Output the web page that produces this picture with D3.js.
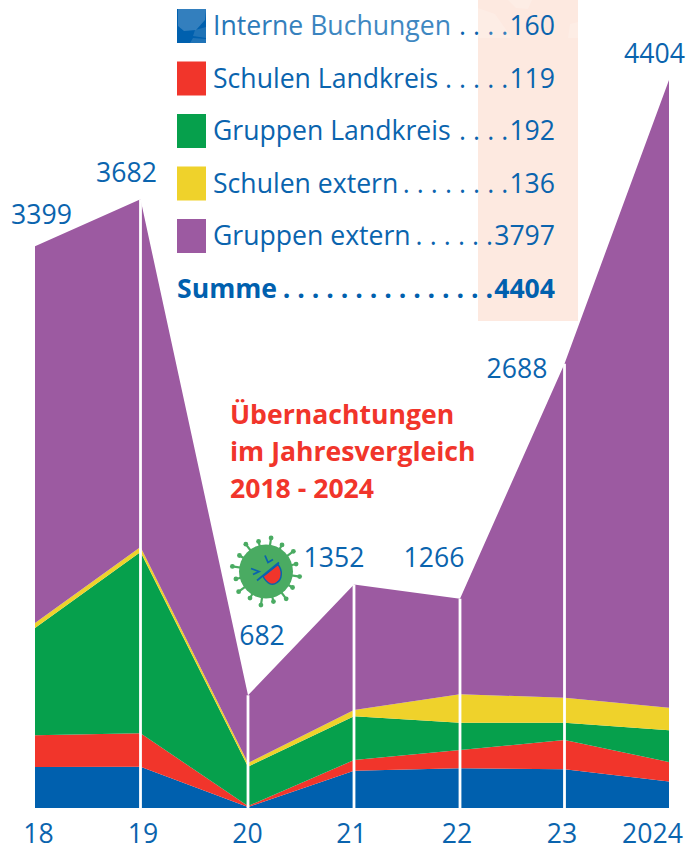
<!DOCTYPE html>
<html>
<head>
<meta charset="utf-8">
<script src="https://cdn.jsdelivr.net/npm/d3@7"></script>
<style>
  html, body { margin: 0; padding: 0; background: #fff; }
  svg { display: block; }
  text { font-family: "Open Sans", sans-serif; }
</style>
</head>
<body>
<div id="chart"></div>
<script>
// Übernachtungen je Jahr, von unten nach oben gestapelt
const years = ["18", "19", "20", "21", "22", "23", "2024"];
const interneBuchungen = [248, 250, 6, 226, 240, 234, 160];
const schulenLandkreis = [192, 202, 6, 64, 111, 177, 119];
const gruppenLandkreis = [649, 1097, 238, 265, 165, 105, 192];
const schulenExtern = [30, 30, 22, 38, 172, 151, 136];
const gruppenExtern = [2280, 2103, 410, 759, 578, 2021, 3797];
const totals = [3399, 3682, 682, 1352, 1266, 2688, 4404];

const seriesNames = ["Interne Buchungen", "Schulen Landkreis", "Gruppen Landkreis", "Schulen extern", "Gruppen extern"];
const seriesValues = [interneBuchungen, schulenLandkreis, gruppenLandkreis, schulenExtern, gruppenExtern];
const seriesColors = ["#0060ae", "#f1352b", "#06a04c", "#efd22b", "#9c5aa1"];
const legendLeaders = [". . . .", ". . . . .", ". . . .", ". . . . . . . .", ". . . . . ."];
const sumLeader = 15;
const titleLines = ["Übernachtungen", "im Jahresvergleich", "2018 - 2024"];

const width = 688, height = 849;
const baseline = 808;
const fontSize = 26.6;
const textBlue = "#0a64ae";

const svg = d3.select("#chart").append("svg")
    .attr("width", width)
    .attr("height", height);

let defs = svg.append("defs");
let fade = defs.append("linearGradient")
    .attr("id", "fadeText")
    .attr("gradientUnits", "userSpaceOnUse")
    .attr("x1", 213).attr("x2", 340).attr("y1", 0).attr("y2", 0);
fade.append("stop").attr("offset", 0).attr("stop-color", "#2474b6");
fade.append("stop").attr("offset", 1).attr("stop-color", "#3f87c1");

let xScale = d3.scaleLinear()
    .domain(d3.range(years.length))
    .range([35, 140.5, 248, 354, 460, 564.5, 669]);

let yScale = d3.scaleLinear()
    .domain([0, 4404])
    .range([baseline, 80]);

// peach column behind the legend numbers
svg.append("rect")
    .attr("x", 478).attr("y", 0)
    .attr("width", 100).attr("height", 321)
    .attr("fill", "#fde9e0");

// stacked areas
let rows = years.map(function (d, i) {
    let row = { index: i };
    seriesNames.forEach(function (name, s) { row[name] = seriesValues[s][i]; });
    return row;
});

let stacked = d3.stack().keys(seriesNames)(rows);

let area = d3.area()
    .x(function (d) { return xScale(d.data.index); })
    .y0(function (d) { return yScale(d[0]); })
    .y1(function (d) { return yScale(d[1]); });

svg.append("g").selectAll("path")
    .data(stacked)
    .enter().append("path")
    .attr("d", area)
    .attr("fill", function (d, i) { return seriesColors[i]; });

// white separators at the inner years
svg.append("g").selectAll("line")
    .data(totals.slice(1, -1))
    .enter().append("line")
    .attr("x1", function (d, i) { return xScale(i + 1); })
    .attr("x2", function (d, i) { return xScale(i + 1); })
    .attr("y1", function (d) { return yScale(d); })
    .attr("y2", baseline)
    .attr("stroke", "#fff")
    .attr("stroke-width", 2.8);

// x axis labels
let xAxis = d3.axisBottom(xScale)
    .tickValues(d3.range(years.length))
    .tickFormat(function (i) { return years[i]; })
    .tickSize(0);

let axisGroup = svg.append("g")
    .attr("transform", "translate(0," + baseline + ")")
    .call(xAxis);
axisGroup.select(".domain").remove();
axisGroup.selectAll("text")
    .attr("y", 0)
    .attr("dy", 0)
    .attr("transform", function (i) { return "translate(" + [3, 2, -1, -3, -3.5, -3, -17][i] + ",35)"; })
    .attr("font-size", fontSize)
    .attr("font-family", '"Open Sans", sans-serif')
    .attr("fill", textBlue);

// totals above the peaks
const totalLabelX = [41.5, 126.5, 262, 334, 434, 517, 654.5];
const totalLabelY = [224, 182, 645, 567, 567, 378, 63];
svg.append("g").selectAll("text")
    .data(totals)
    .enter().append("text")
    .attr("x", function (d, i) { return totalLabelX[i]; })
    .attr("y", function (d, i) { return totalLabelY[i]; })
    .attr("text-anchor", "middle")
    .attr("font-size", fontSize)
    .attr("fill", textBlue)
    .text(function (d) { return d; });

// legend
const legendY = d3.scalePoint().domain(d3.range(6)).range([26, 288.5]);

let legend = svg.append("g");
legend.selectAll("rect")
    .data(seriesNames)
    .enter().append("rect")
    .attr("x", 177)
    .attr("y", function (d, i) { return legendY(i) - 17; })
    .attr("width", 29)
    .attr("height", 34)
    .attr("fill", function (d, i) { return seriesColors[i]; });

seriesNames.forEach(function (name, i) {
    legend.append("text")
        .attr("x", 213)
        .attr("y", legendY(i) + 9)
        .attr("font-size", fontSize)
        .attr("fill", i === 0 ? "url(#fadeText)" : textBlue)
        .text(name);

    // dot leader and value in one text, right aligned
    let valueText = legend.append("text")
        .attr("x", 555)
        .attr("y", legendY(i) + 9)
        .attr("text-anchor", "end")
        .attr("font-size", fontSize)
        .attr("fill", textBlue);
    valueText.append("tspan")
        .attr("letter-spacing", 0.1)
        .text(legendLeaders[i]);
    valueText.append("tspan")
        .attr("dx", 1)
        .text(seriesValues[i][6]);
});

legend.append("text")
    .attr("x", 177).attr("y", legendY(5) + 9)
    .attr("font-size", fontSize).attr("font-weight", 700)
    .attr("fill", "#0060ae")
    .text("Summe");

let sumText = legend.append("text")
    .attr("x", 555).attr("y", legendY(5) + 9)
    .attr("text-anchor", "end")
    .attr("font-size", fontSize).attr("font-weight", 700)
    .attr("fill", "#0060ae");
sumText.append("tspan")
    .text(d3.range(sumLeader).map(function () { return "."; }).join(" "));
sumText.append("tspan")
    .attr("dx", 1)
    .text(totals[6]);

// faint watermark over the first legend row
let watermark = svg.append("g").attr("fill", "#fff");
watermark.append("path")
    .attr("d", "M178,9 L206,9 L205,20 L196,30 L184,31 L178,26 Z")
    .attr("opacity", 0.2);
watermark.append("path")
    .attr("d", "M195,30 L206,27 L206,38 L193,36 Z M190,43 L193,38 L206,39 L206,43 Z")
    .attr("opacity", 0.12);
watermark.append("path")
    .attr("d", "M478,8 L495,14 L512,38 L478,38 Z M508,0 L532,0 L528,9 L516,8 Z M570,24 L578,22 L578,38 L568,38 Z")
    .attr("opacity", 0.18);

// title
svg.append("g").selectAll("text")
    .data(titleLines)
    .enter().append("text")
    .attr("x", 230)
    .attr("y", function (d, i) { return 424 + i * 37; })
    .attr("font-size", fontSize)
    .attr("font-weight", 700)
    .attr("fill", "#f1352b")
    .text(function (d) { return d; });

// virus icon
let virus = svg.append("g").attr("transform", "translate(266,571.5)");
d3.range(16).forEach(function (k) {
    let a = k / 16 * 2 * Math.PI + 0.15;
    let len = k % 2 ? 31 : 34;
    virus.append("line")
        .attr("x1", 0).attr("y1", 0)
        .attr("x2", len * Math.cos(a)).attr("y2", len * Math.sin(a))
        .attr("stroke", "#4aab62").attr("stroke-width", 2.2);
    virus.append("circle")
        .attr("cx", len * Math.cos(a)).attr("cy", len * Math.sin(a))
        .attr("r", 2.4)
        .attr("fill", "#4aab62");
});
virus.append("circle").attr("r", 27).attr("fill", "#4aab62");
virus.append("path")
    .attr("d", "M-3,5 L12,-7 C17,-1 16,8 11,11 C6,15 1,12 -3,5 Z")
    .attr("fill", "#f1352b").attr("stroke", "#0a64ae").attr("stroke-width", 1.5);
virus.append("path")
    .attr("d", "M-9,9 L13,-9 M-15,-3 L-7,0 L-13,3 M-1,-16 L2,-9 L7,-12")
    .attr("fill", "none").attr("stroke", "#0a64ae").attr("stroke-width", 1.8);
</script>
</body>
</html>
